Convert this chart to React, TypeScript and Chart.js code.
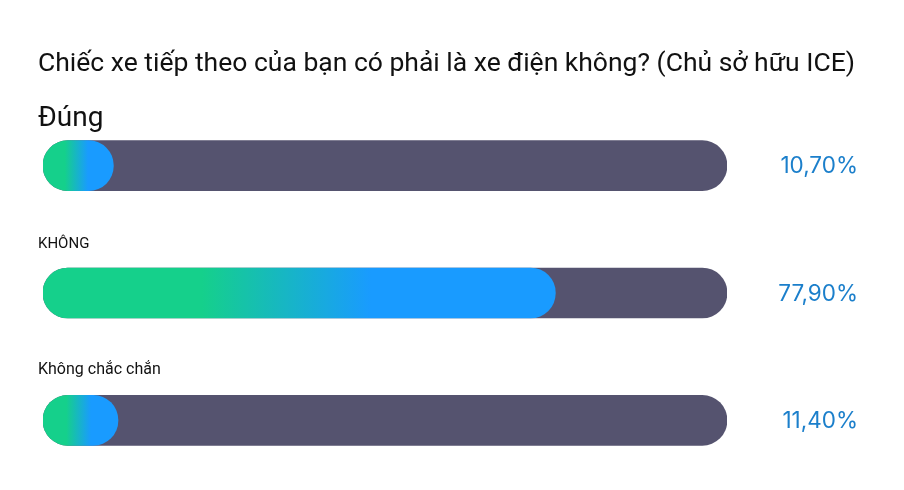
import { useEffect, useRef } from "react";
import { Chart, registerables, Plugin } from "chart.js";

Chart.register(...registerables);

const title = "Chiếc xe tiếp theo của bạn có phải là xe điện không? (Chủ sở hữu ICE)";
const answers = ["Đúng", "KHÔNG", "Không chắc chắn"];
const shares = [10.7, 77.9, 11.4];
const shareLabels = ["10,70%", "77,90%", "11,40%"];
// the grey track runs a little past 100 in the original
const trackValues = [104, 104, 104];
// the first answer label is drawn much bigger in the original
const labelSizes = [28, 15, 16];
const labelGaps = [40, 45, 46];

const GREEN = "#15d08b";
const BLUE = "#199bff";
const TRACK = "#55536f";

const labelsPlugin: Plugin<"bar"> = {
  id: "pollLabels",
  afterDatasetsDraw(chart) {
    const { ctx, chartArea } = chart;
    const meta = chart.getDatasetMeta(0);
    ctx.save();
    ctx.textBaseline = "alphabetic";
    ctx.fillStyle = "#111111";
    ctx.textAlign = "left";
    ctx.font = "26.5px Roboto";
    ctx.fillText(title, 38, 71);

    meta.data.forEach((bar, i) => {
      const y = bar.y;
      ctx.fillStyle = "#111111";
      ctx.textAlign = "left";
      ctx.font = `${labelSizes[i]}px Roboto`;
      ctx.fillText(answers[i], chartArea.left - 5, y - labelGaps[i]);

      ctx.fillStyle = "#1b7fcb";
      ctx.textAlign = "right";
      ctx.textBaseline = "middle";
      ctx.font = "22.5px Inter";
      ctx.fillText(shareLabels[i], 858, y + 1);
      ctx.textBaseline = "alphabetic";
    });
    ctx.restore();
  },
};

export default function App() {
  const canvasRef = useRef<HTMLCanvasElement | null>(null);

  useEffect(() => {
    document.body.style.margin = "0";
    if (!canvasRef.current) return;

    const chart = new Chart(canvasRef.current, {
      type: "bar",
      data: {
        labels: answers,
        datasets: [
          {
            label: "share",
            data: shares,
            barThickness: 50,
            borderRadius: 25,
            borderSkipped: false,
            grouped: false,
            backgroundColor: (c: any) => {
              const chartRef = c.chart;
              const x = chartRef.scales?.x;
              if (!x || c.dataIndex === undefined) return GREEN;
              const x0 = x.getPixelForValue(0);
              const x1 = x.getPixelForValue(shares[c.dataIndex]);
              if (!Number.isFinite(x0) || !Number.isFinite(x1) || x1 <= x0) return GREEN;
              const g = chartRef.ctx.createLinearGradient(x0, 0, x1, 0);
              g.addColorStop(0, GREEN);
              g.addColorStop(0.31, GREEN);
              g.addColorStop(0.64, BLUE);
              g.addColorStop(1, BLUE);
              return g;
            },
          },
          {
            label: "track",
            data: trackValues,
            barThickness: 50,
            borderRadius: 25,
            borderSkipped: false,
            grouped: false,
            backgroundColor: TRACK,
          },
        ],
      },
      options: {
        indexAxis: "y",
        responsive: false,
        animation: false,
        layout: { padding: { top: 102, left: 43, right: 177, bottom: 6 } },
        plugins: {
          legend: { display: false },
          tooltip: { enabled: false },
          title: { display: false },
        },
        scales: {
          x: { display: false, min: 0, max: 104 },
          y: { display: false },
        },
      },
      plugins: [labelsPlugin],
    });

    return () => {
      chart.destroy();
    };
  }, []);

  return (
    <div style={{ width: 904, height: 490, background: "#ffffff" }}>
      <canvas ref={canvasRef} width={904} height={490}></canvas>
    </div>
  );
}
